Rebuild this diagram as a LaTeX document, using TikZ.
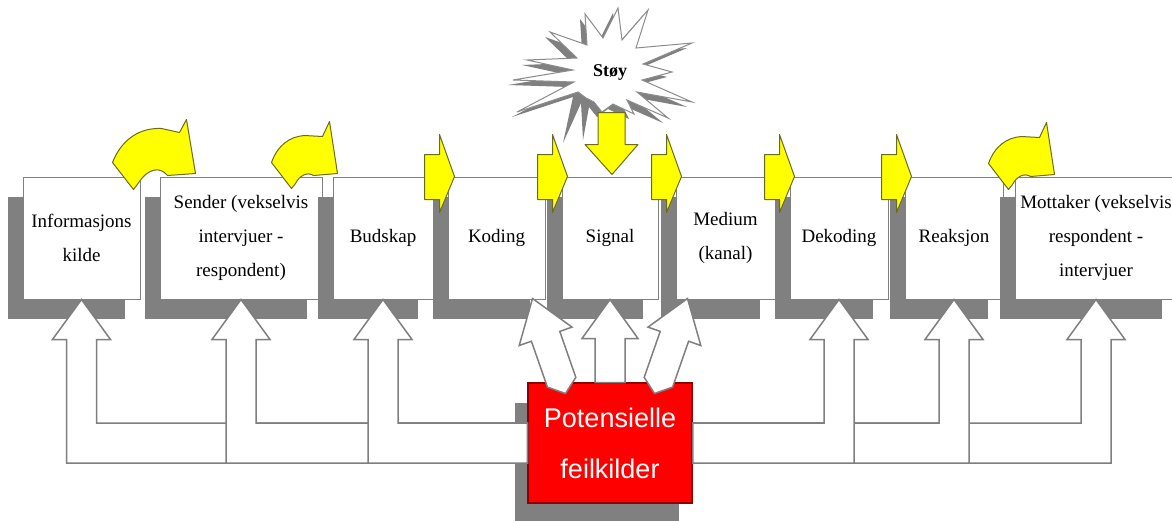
\documentclass[tikz,border=0pt]{standalone}
\usepackage{fontspec}
\setmainfont{Liberation Serif}
\newfontfamily\arialfont{Liberation Sans}
\usetikzlibrary{calc,shadows}
\definecolor{shadowc}{HTML}{808080}
\definecolor{yel}{HTML}{FFFF00}
\definecolor{yeledge}{HTML}{6B6B20}
\definecolor{redfill}{HTML}{FF0000}
\definecolor{rededge}{HTML}{8B0000}
\definecolor{pipeline}{HTML}{7F7F7F}
\begin{document}
\begin{tikzpicture}[x=1pt,y=-1pt,
  box/.style={draw=black!50, line width=1pt, fill=white, inner sep=0pt, align=center,
    minimum height=122pt, font=\fontsize{19}{34}\selectfont,
    general shadow={fill=shadowc, shadow xshift=-15pt, shadow yshift=-20pt}},
  redbox/.style={draw=rededge, line width=1.5pt, fill=redfill, text=white,
    minimum width=164pt, minimum height=120pt, inner sep=0pt, align=center,
    font=\arialfont\fontsize{27}{51}\selectfont,
    general shadow={fill=shadowc, shadow xshift=-13pt, shadow yshift=-20pt}},
  warrow/.style={fill=white, draw=pipeline, line width=1.5pt, line join=miter},
  yarr/.style={fill=yel, draw=yeledge, line width=1pt, line join=round},
  yarrow/.pic={\path[yarr] (0,0) -- (-15,-42) -- (-15,-22) -- (-30,-22) -- (-30,23) -- (-15,23) -- (-15,36) -- cycle;},
  curvedA/.pic={\path[yarr] (-83,-11) .. controls (-74,-34) and (-56,-46) .. (-34,-45) -- (-16,-41) -- (-9,-54) -- (0,0) -- (-28,2) .. controls (-36,-8) and (-48,-4) .. (-56,8) -- (-62,16) -- cycle;},
  curvedB/.pic={\path[yarr] (-66,-11) .. controls (-60,-28) and (-48,-37) .. (-33,-38) -- (-15,-37) -- (-8,-52) -- (0,0) -- (-24,2) .. controls (-30,-2) and (-38,2) .. (-42,10) -- (-46,15) -- cycle;},
  downarrow/.pic={\path[yarr] (0,0) -- (26,-30) -- (13,-30) -- (13,-62) -- (-14,-62) -- (-14,-30) -- (-27,-30) -- cycle;},
  slantL/.pic={\path[warrow] (0,0) -- (39.5,28.6) -- (27.3,32.9) -- (43.3,78.8) -- (33,95) -- (14.9,88.6) -- (-1.1,42.7) -- (-13.3,47) -- cycle;},
  slantR/.pic={\path[warrow] (0,0) -- (-39.5,28.6) -- (-27.3,32.9) -- (-43.3,78.8) -- (-33,95) -- (-14.9,88.6) -- (1.1,42.7) -- (13.3,47) -- cycle;},
  uparrow/.pic={\path[warrow] (0,0) -- (28,39) -- (15,39) -- (15,83) -- (-15,83) -- (-15,39) -- (-28,39) -- cycle;}
]
\useasboundingbox (0,0) rectangle (1172,520);
\clip (0,0) rectangle (1172,520);
\fill[white] (0,0) rectangle (1172,520);

% boxes
\node[box, minimum width=117pt] (info) at (81.5,238) {Informasjons\\kilde};
\node[box, minimum width=162pt] (sender) at (241,238) {Sender (vekselvis\\intervjuer -\\respondent)};
\node[box, minimum width=100pt] (budskap) at (383,238) {Budskap};
\node[box, minimum width=97pt] (koding) at (496.5,238) {Koding};
\node[box, minimum width=96pt] (signal) at (610,238) {Signal};
\node[box, minimum width=99pt] (medium) at (725.5,238) {Medium\\(kanal)};
\node[box, minimum width=98pt] (dekoding) at (839,238) {Dekoding};
\node[box, minimum width=98pt] (reaksjon) at (954,238) {Reaksjon};
\node[box, minimum width=162pt] (mottaker) at (1096,238) {Mottaker (vekselvis\\respondent -\\intervjuer};

% error sources
\node[redbox] (feil) at (610,443) {Potensielle\\feilkilder};
\coordinate (pipetop) at (0,423);
\coordinate (pipebot) at (0,463);

% feedback arrows, left side
\foreach \b in {info,sender,budskap}{
  \draw[warrow] (\b.south) -- ++(29,40) -- ++(-14,0) |- (feil.west |- pipetop)
    -- (feil.west |- pipebot) -| ($(\b.south)+(-15,40)$) -- ++(-14,0) -- cycle;
}
% feedback arrows, right side
\foreach \b in {mottaker,reaksjon,dekoding}{
  \draw[warrow] (\b.south) -- ++(-29,40) -- ++(14,0) |- (feil.east |- pipetop)
    -- (feil.east |- pipebot) -| ($(\b.south)+(15,40)$) -- ++(14,0) -- cycle;
}
\pic at ($(koding.south east)+(-13,-1)$) {slantL};
\pic at ($(medium.south west)+(12,-1)$) {slantR};
\pic at (signal.south) {uparrow};

% yellow arrows between boxes
\pic at ($(koding.north west)+(7,0)$) {yarrow};
\pic at ($(signal.north west)+(6,0)$) {yarrow};
\pic at ($(medium.north west)+(6,0)$) {yarrow};
\pic at ($(dekoding.north west)+(5,0)$) {yarrow};
\pic at ($(reaksjon.north west)+(7,0)$) {yarrow};
\pic at ($(sender.north west)+(36,-3)$) {curvedA};
\pic at ($(budskap.north west)+(5,-3)$) {curvedB};
\pic at ($(mottaker.north west)+(40,-2)$) {curvedB};

% noise star
\begin{scope}[shift={(-5,5)}]
\fill[shadowc] (618,8) -- (622,40) -- (648,10) -- (636,48) -- (692,43) -- (643,64) -- (672,72) -- (642,80) -- (692,102) -- (637,92) -- (668,118) -- (627,100) -- (634,114) -- (613,104) -- (602,112) -- (594,102) -- (588,135) -- (586,98) -- (568,138) -- (578,92) -- (517,112) -- (574,82) -- (513,80) -- (573,70) -- (527,60) -- (577,58) -- (550,32) -- (587,45) -- (585,14) -- (603,38) -- cycle;
\end{scope}
\draw[fill=white, draw=black!45, line width=1pt, line join=miter] (618,8) -- (622,40) -- (648,10) -- (636,48) -- (692,43) -- (643,64) -- (672,72) -- (642,80) -- (692,102) -- (637,92) -- (668,118) -- (627,100) -- (634,114) -- (613,104) -- (602,112) -- (594,102) -- (586,98) -- (578,92) -- (517,112) -- (574,82) -- (513,80) -- (573,70) -- (527,60) -- (577,58) -- (550,32) -- (587,45) -- (585,14) -- (603,38) -- cycle;
\node[font=\bfseries\fontsize{18}{20}\selectfont, inner sep=0pt] (stoy) at (610,72) {Støy};
\pic at ($(signal.north)+(2,-2)$) {downarrow};
\end{tikzpicture}
\end{document}
